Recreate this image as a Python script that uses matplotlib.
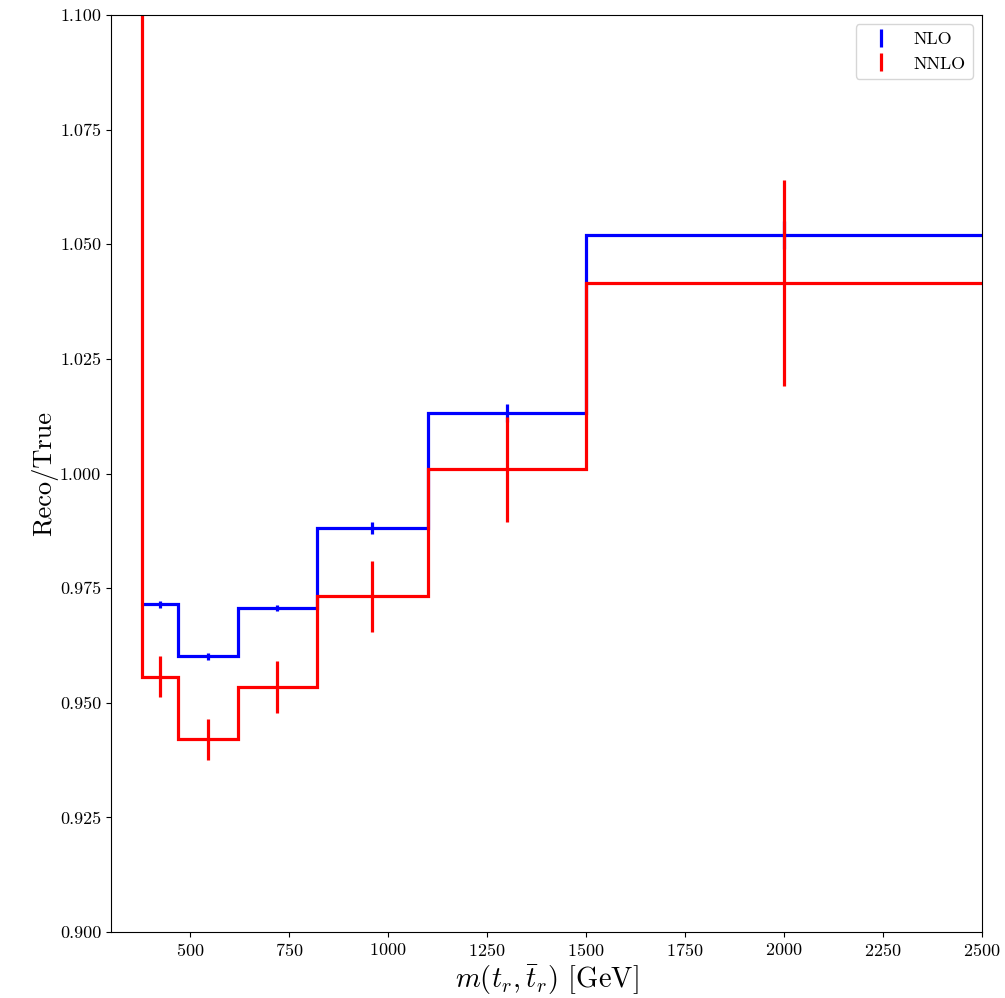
import numpy as np
import matplotlib
matplotlib.use("Agg")
import matplotlib.pyplot as plt

plt.rcParams['font.family'] = ['cmr10', 'DejaVu Serif']
plt.rcParams['mathtext.fontset'] = 'cm'
plt.rcParams['axes.formatter.use_mathtext'] = True

edges = [378, 470, 620, 820, 1100, 1500, 2500]
centers = [425, 545, 720, 960, 1300, 2000]
nlo = [0.9715, 0.9601, 0.9707, 0.9881, 1.0132, 1.0520]
nlo_err = [0.0008, 0.0007, 0.0007, 0.0013, 0.0020, 0.0030]
nnlo = [0.9557, 0.9420, 0.9535, 0.9732, 1.0009, 1.0415]
nnlo_err = [0.0045, 0.0045, 0.0057, 0.0078, 0.0115, 0.0224]
# underflow bin of NNLO (off the top of the plot)
nnlo_under_edge = 0
nnlo_under = 1.25

fig = plt.figure(figsize=(10.05, 9.98), dpi=100)
ax = fig.add_axes([0.1104, 0.0661, 0.8667, 0.9189])

ax.stairs(nlo, edges, baseline=None, color='blue', lw=2.3)
ax.stairs([nnlo_under] + nnlo, [nnlo_under_edge] + edges, baseline=None, color='red', lw=2.3)
ax.errorbar(centers, nlo, yerr=nlo_err, fmt='none', ecolor='blue', elinewidth=2.3, label='NLO')
ax.errorbar(centers, nnlo, yerr=nnlo_err, fmt='none', ecolor='red', elinewidth=2.3, label='NNLO')

ax.set_xlim(300, 2500)
ax.set_ylim(0.9, 1.1)
ax.set_xticks([500, 750, 1000, 1250, 1500, 1750, 2000, 2250, 2500])
ax.set_yticks(np.arange(0.9, 1.1001, 0.025))
ax.set_yticklabels([f"{v:.3f}" for v in np.arange(0.9, 1.1001, 0.025)])
ax.tick_params(labelsize=13)

ax.set_xlabel(r'$m(t_r,\bar{t}_r)$ [GeV]', fontsize=20.5, labelpad=3)
ax.set_ylabel('Reco/True', fontsize=19, labelpad=1)
ax.legend(loc='upper right', fontsize=13)

fig.savefig('out.png', dpi=100)
